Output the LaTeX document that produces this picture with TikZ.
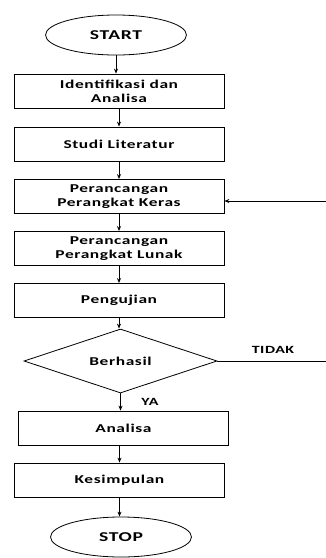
\documentclass[tikz,border=0pt]{standalone}
\usepackage{fontspec}
\newfontfamily\flowfont{Carlito}[FakeStretch=1.45, LetterSpace=5]
\usetikzlibrary{shapes.geometric,arrows.meta}
\begin{document}
\begin{tikzpicture}[x=1pt, y=-1pt,
	every node/.style = {font=\flowfont\bfseries\fontsize{12}{14}\selectfont},
	proc/.style = {draw, thick, rectangle, minimum width=210pt, minimum height=34pt, inner sep=0pt, align=center},
	term/.style = {draw, thick, ellipse, minimum width=141pt, minimum height=40pt, inner sep=0pt, font=\flowfont\bfseries\fontsize{13.5}{15}\selectfont},
	dec/.style = {draw, thick, diamond, aspect=3, minimum width=193pt, minimum height=64pt, inner sep=0pt},
	lbl/.style = {font=\flowfont\bfseries\fontsize{11}{12}\selectfont},
	arr/.style = {-{Stealth[length=5pt, width=4pt]}, thick}]
	\useasboundingbox (0,0) rectangle (326,558);
	\node[term] (start) at (116,35) {START};
	\node[proc] (ident) [below of=start, node distance=56pt, xshift=3pt] {Identifikasi dan\\Analisa};
	\node[proc] (studi) [below of=ident, node distance=53pt] {Studi Literatur};
	\node[proc] (keras) [below of=studi, node distance=52.5pt] {Perancangan\\Perangkat Keras};
	\node[proc] (lunak) [below of=keras, node distance=52pt] {Perancangan\\Perangkat Lunak};
	\node[proc] (uji) [below of=lunak, node distance=52pt] {Pengujian};
	\node[dec] (hasil) [below of=uji, node distance=60.5pt, xshift=1.5pt] {Berhasil};
	\node[proc] (analisa) [below of=hasil, node distance=67pt, xshift=3pt] {Analisa};
	\node[proc] (simpul) [below of=analisa, node distance=52pt, xshift=-4pt] {Kesimpulan};
	\node[term] (stop) [below of=simpul, node distance=57pt, xshift=1.5pt] {STOP};
	\node[lbl] (ya) at (150,402) {YA};
	\node[lbl] (tidak) at (273,350) {TIDAK};
	\coordinate (kanan1) at (326,201);
	\coordinate (kanan2) at (326,361);
	\draw[arr] (start.south) -- (start.south |- ident.north);
	\draw[arr] (ident) -- (studi);
	\draw[arr] (studi) -- (keras);
	\draw[arr] (keras) -- (lunak);
	\draw[arr] (lunak) -- (uji);
	\draw[arr] (uji.south) -- (uji.south |- hasil.north);
	\draw[arr] (hasil.south) -- (hasil.south |- analisa.north);
	\draw[arr] (analisa.south -| simpul) -- (simpul.north);
	\draw[arr] (simpul.south) -- (simpul.south |- stop.north);
	\draw[thick] (hasil.east) -- (kanan2);
	\draw[arr] (kanan1) -- (kanan1 -| keras.east);
\end{tikzpicture}
\end{document}
